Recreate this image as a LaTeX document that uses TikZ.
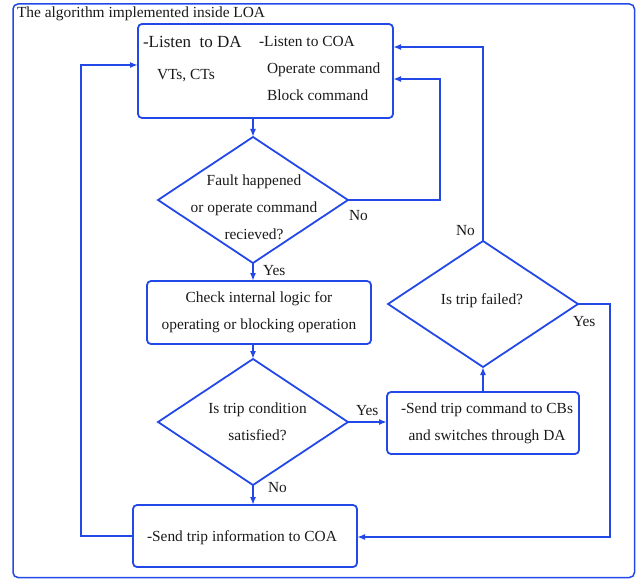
\documentclass[tikz,border=0pt]{standalone}
\usepackage{fontspec}
\setmainfont{Liberation Serif}
\usetikzlibrary{shapes.geometric,arrows.meta}
\definecolor{flowblue}{RGB}{35,72,232}
\begin{document}
\begin{tikzpicture}[x=1pt,y=-1pt,
  every node/.style={inner sep=0pt,outer sep=0pt},
  txt/.style={font=\fontsize{15.4}{27.2}\selectfont,text=black!90},
  bigtxt/.style={font=\fontsize{17}{20}\selectfont,text=black!90},
  flowbox/.style={draw=flowblue,line width=1.8pt,rounded corners=4pt,
    rectangle,align=center,txt},
  decision/.style={draw=flowblue,line width=1.8pt,diamond,
    minimum width=190pt,minimum height=126pt},
  dtext/.style={txt,align=center},
  flow/.style={draw=flowblue,line width=1.8pt,
    -{Latex[length=8pt,width=6pt]}},
  plain/.style={draw=flowblue,line width=1.8pt}]

\useasboundingbox (0,0) rectangle (636,580);

% outer frame and its title
\draw[draw=flowblue,line width=1.5pt,rounded corners=5pt] (13,4) rectangle (634.5,577.5);
\node[txt,anchor=base west] (title) at (17,18) {The algorithm implemented inside LOA};

% listening block
\node[flowbox,minimum width=255pt,minimum height=94pt] (top) at (265.5,71) {};
\node[bigtxt,anchor=base west] (lda) at (143,48) {-Listen\ \ to DA};
\node[txt,anchor=base west] (vts) at (157,80) {VTs, CTs};
\node[txt,anchor=base west] (lcoa) at (259,47) {-Listen to COA};
\node[txt,anchor=base west] (opc) at (267,74) {Operate command};
\node[txt,anchor=base west] (blc) at (267,100.5) {Block command};

% first decision
\node[decision] (d1) at (253,200) {};
\node[dtext] (d1t) at (254,207) {Fault happened\\or operate command\\recieved?};

% internal logic check
\node[flowbox,minimum width=224pt,minimum height=63pt] (b2) at (259,312.5)
  {Check internal logic for\\operating or blocking operation};

% second decision
\node[decision] (d2) at (253,422) {};
\node[dtext] (d2t) at (257.5,422) {Is trip condition\\satisfied?};

% trip command
\node[flowbox,minimum width=192pt,minimum height=62pt] (b3) at (483,423) {};
\node[dtext] (b3t) at (487,423) {-Send trip command to CBs\\and switches through DA};

% third decision
\node[decision] (d3) at (483,304) {};
\node[dtext] (d3t) at (482,300.4) {Is trip failed?};

% trip information
\node[flowbox,minimum width=224pt,minimum height=62pt] (b4) at (245,536) {};
\node[txt,anchor=base west] (b4t) at (147,541) {-Send trip information to COA};

% bend points of the return lines
\coordinate (n1) at (440,79);
\coordinate (n2) at (483,47);
\coordinate (n3) at (610,537);
\coordinate (n4) at (81,65);

% connectors
\draw[flow] (top.south -| d1.north) -- (d1.north);
\draw[flow] (d1.east) -| (n1) -- (n1 -| top.east);
\draw[flow] (d1.south) -- (d1.south |- b2.north);
\draw[flow] (b2.south -| d2.north) -- (d2.north);
\draw[flow] (d2.east) -- (d2.east -| b3.west);
\draw[flow] (d2.south) -- (d2.south |- b4.north);
\draw[flow] (b3.north) -- (d3.south);
\draw[flow] (d3.north) -- (n2) -- (n2 -| top.east);
\draw[flow] (d3.east) -| (n3) -- (n3 -| b4.east);
\draw[flow] (b4.west) -| (n4) -- (n4 -| top.west);

% branch labels
\node[txt,anchor=base west] (no1) at (349,220) {No};
\node[txt,anchor=base west] (yes1) at (263,275) {Yes};
\node[txt,anchor=base west] (yes2) at (356,415.5) {Yes};
\node[txt,anchor=base west] (no2) at (268,492) {No};
\node[txt,anchor=base west] (no3) at (456,235) {No};
\node[txt,anchor=base west] (yes3) at (573,326) {Yes};
\end{tikzpicture}
\end{document}
